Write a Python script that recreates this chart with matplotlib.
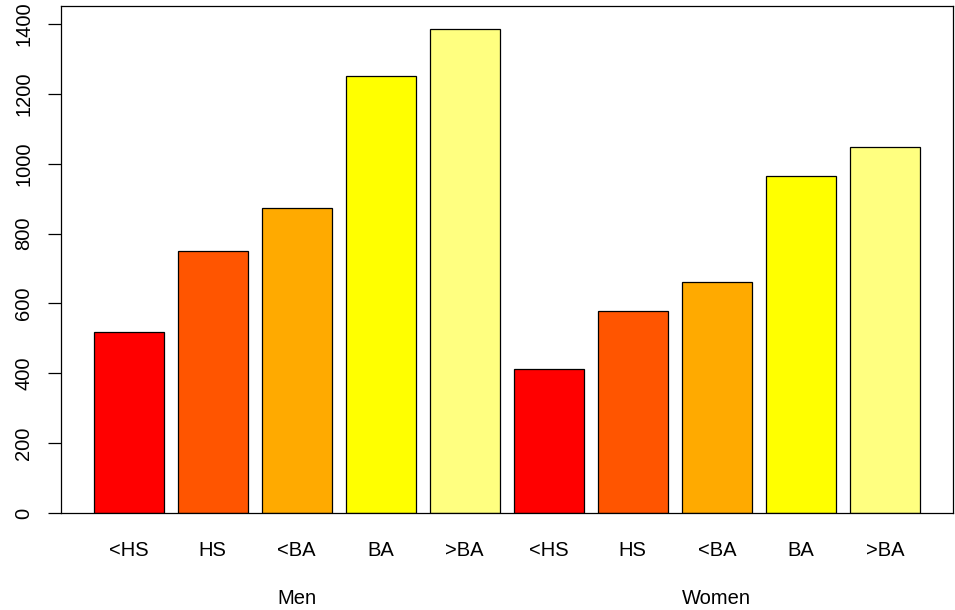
import matplotlib
matplotlib.use("Agg")
import matplotlib.pyplot as plt
import matplotlib.transforms as mtransforms
import numpy as np

# education levels, repeated for each sex
levels = ["<HS", "HS", "<BA", "BA", ">BA"]
groups = ["Men", "Women"]
men = [518, 750, 873, 1251, 1386]
women = [412, 578, 661, 965, 1048]
colors = ["#FF0000", "#FF5500", "#FFAA00", "#FFFF00", "#FFFF80"]

plt.rcParams['font.family'] = ['Liberation Sans', 'DejaVu Sans']
fs = 14.5

heights = men + women
labels = levels * 2
bar_cols = colors * 2

# R-style barplot positions: width 1, space 0.2
n = len(heights)
lefts = 0.2 + 1.2 * np.arange(n)
centers = lefts + 0.5

fig = plt.figure(figsize=(9.55, 6.1), dpi=100)
ax = fig.add_axes([60.5 / 955, (610 - 513) / 610, (953 - 60.5) / 955, (513 - 6) / 610])

ax.bar(centers, heights, width=1.0, color=bar_cols, edgecolor="black", linewidth=0.9)

ax.set_xlim(-0.272, 12.472)
ax.set_ylim(0, 1452)

ax.set_yticks(np.arange(0, 1401, 200))
ax.set_yticklabels([str(v) for v in range(0, 1401, 200)], rotation=90, va="center", fontsize=fs)
ax.tick_params(axis="y", length=9.5, width=0.9, pad=10)

ax.set_xticks(centers)
ax.set_xticklabels(labels, fontsize=fs)
ax.tick_params(axis="x", length=0, pad=20)

for s in ax.spines.values():
    s.set_linewidth(0.9)

trans = mtransforms.blended_transform_factory(ax.transData, ax.transAxes)
for i, g in enumerate(groups):
    ax.text(centers[i * 5 + 2], -0.168, g, transform=trans, ha="center", va="center", fontsize=fs)

fig.savefig("out.png", dpi=100)
